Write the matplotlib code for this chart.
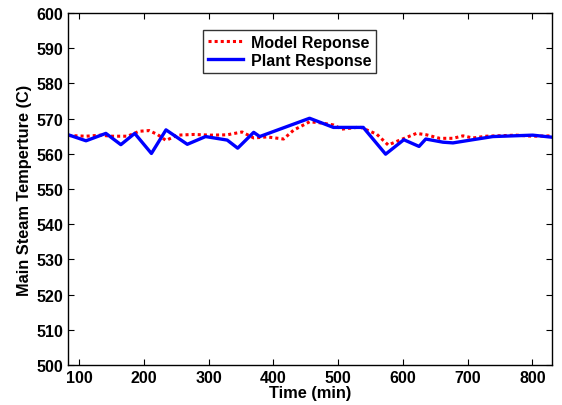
import matplotlib
matplotlib.use("Agg")
import matplotlib.pyplot as plt

plant_x = [83.5, 110.8, 141.5, 164.6, 186, 211.8, 234.3, 267.2, 295.4, 328.8, 345, 369.7, 379,
           456, 492.8, 538.9, 573.4, 601.5, 625, 635.4, 662, 677.4, 708, 739, 800.5, 831]
plant_y = [565.4, 563.7, 565.8, 562.6, 565.8, 560.1, 566.8, 562.7, 564.9, 563.9, 561.6, 566.1, 564.9,
           570.1, 567.5, 567.5, 559.9, 564.0, 562.1, 564.2, 563.3, 563.1, 564.0, 564.9, 565.3, 564.7]

model_x = [83.5, 110.8, 133.8, 149.2, 174.9, 192.8, 208.2, 221, 234.3, 251.8, 277.4, 303, 328.8,
           351.8, 369.7, 390.3, 415.8, 431.2, 456, 472.3, 492.8, 505.7, 533.8, 559.5, 577.4,
           592.8, 621, 636.4, 656.9, 677.4, 692.8, 708.2, 728.8, 775, 800.5, 831]
model_y = [565.2, 565.0, 565.3, 565.0, 565.0, 566.4, 566.6, 565.5, 563.8, 565.3, 565.5, 565.3, 565.4,
           566.2, 564.5, 564.8, 564.2, 566.7, 569.1, 568.8, 568.2, 567.0, 567.6, 565.6, 562.5,
           563.7, 565.8, 565.4, 564.4, 564.4, 565.1, 564.5, 565.0, 565.3, 565.0, 565.1]

xticks = [100, 200, 300, 400, 500, 600, 700, 800]
yticks = list(range(500, 601, 10))

plt.rcParams['font.family'] = ['Liberation Sans', 'DejaVu Sans']
plt.rcParams['font.weight'] = 'bold'

fig = plt.figure(figsize=(5.62, 4.06), dpi=100)
ax = fig.add_axes([0.121, 0.0985, 0.862, 0.867])

ax.plot(model_x, model_y, color='red', linestyle=(0, (1, 1)), linewidth=2.2, label='Model Reponse')
ax.plot(plant_x, plant_y, color='blue', linestyle='-', linewidth=2.4, label='Plant Response')

ax.set_xlim(83, 831)
ax.set_ylim(500, 600)
ax.set_xticks(xticks)
ax.set_yticks(yticks)
ax.tick_params(direction='in', top=True, right=True, labelsize=11.5, length=4)
for lbl in ax.get_xticklabels() + ax.get_yticklabels():
    lbl.set_fontweight('bold')
for s in ax.spines.values():
    s.set_linewidth(1.0)

ax.set_xlabel('Time (min)', fontsize=11.8, fontweight='bold', labelpad=0)
ax.set_ylabel('Main Steam Temperture (C)', fontsize=11.8, fontweight='bold', labelpad=3)

leg = ax.legend(loc='upper center', bbox_to_anchor=(0.457, 0.975), fontsize=11.5,
                frameon=True, fancybox=False, edgecolor='black', handlelength=2.2,
                borderpad=0.3, labelspacing=0.2, handletextpad=0.5)
leg.get_frame().set_linewidth(1.0)
for t in leg.get_texts():
    t.set_fontweight('bold')

fig.savefig('out.png', dpi=100)
